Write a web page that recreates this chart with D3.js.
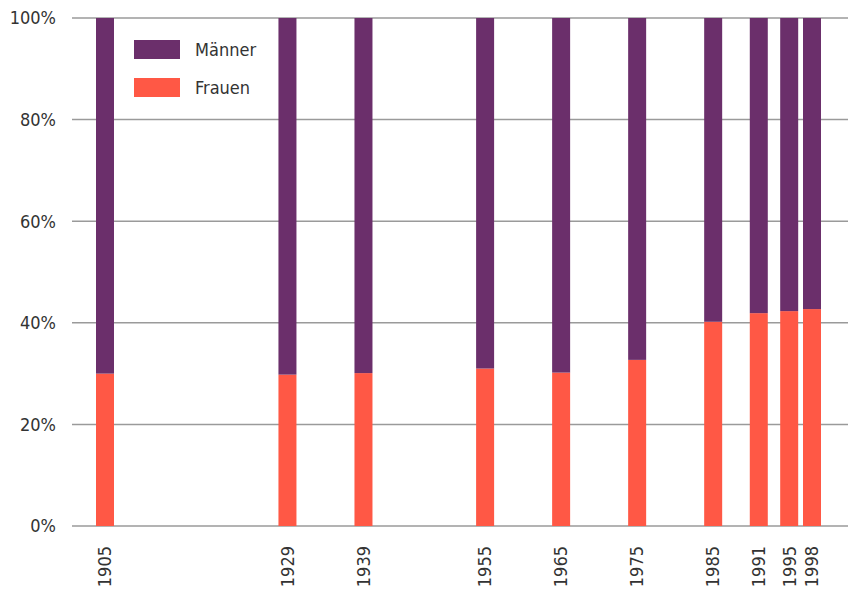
<!DOCTYPE html>
<html lang="de">
<head>
  <meta charset="UTF-8">
  <title>Männer und Frauen</title>
  <script src="https://cdn.jsdelivr.net/npm/d3@7"></script>
  <style>
    body { margin: 0; padding: 0; background: #fff; }
    svg text { font-family: "Liberation Sans Narrow", "DejaVu Sans Condensed", sans-serif; fill: #333; }
  </style>
</head>
<body>
<div id="chart"></div>
<script>
// data
var years = [1905, 1929, 1939, 1955, 1965, 1975, 1985, 1991, 1995, 1998];
var frauen = [30.0, 29.8, 30.1, 31.0, 30.2, 32.7, 40.2, 41.9, 42.3, 42.7];
var maenner = frauen.map(function(f) { return 100 - f; });
var yTicks = [0, 20, 40, 60, 80, 100];
var seriesNames = ["Männer", "Frauen"];
var colors = { "Männer": "#6b2f6b", "Frauen": "#ff5845" };

var W = 856, H = 591;
var plotLeft = 72, plotRight = 848, plotTop = 18, plotBottom = 526;

var svg = d3.select("#chart").append("svg")
  .attr("width", W).attr("height", H);

var x = d3.scaleLinear().domain([1905, 1998]).range([105, 812]);
var y = d3.scaleLinear().domain([0, 100]).range([plotBottom, plotTop]);

// gridlines
svg.append("g").selectAll("line")
  .data(yTicks).enter().append("line")
  .attr("x1", plotLeft).attr("x2", plotRight)
  .attr("y1", function(d) { return y(d); })
  .attr("y2", function(d) { return y(d); })
  .attr("stroke", "#9a9a9a").attr("stroke-width", 1.5);

// y labels
svg.append("g").selectAll("text")
  .data(yTicks).enter().append("text")
  .attr("x", 56)
  .attr("y", function(d) { return y(d); })
  .attr("dy", "0.35em")
  .attr("text-anchor", "end")
  .style("font-size", "18px")
  .text(function(d) { return d + "%"; });

var rows = years.map(function(yr, i) {
  return { year: yr, "Frauen": frauen[i], "Männer": maenner[i] };
});
var stacked = d3.stack().keys(["Frauen", "Männer"])(rows);
var bw = 18;

svg.append("g").selectAll("g")
  .data(stacked).enter().append("g")
  .attr("fill", function(s) { return colors[s.key]; })
  .selectAll("rect")
  .data(function(s) { return s; }).enter().append("rect")
  .attr("x", function(d) { return x(d.data.year) - bw / 2; })
  .attr("width", bw)
  .attr("y", function(d) { return y(d[1]); })
  .attr("height", function(d) { return y(d[0]) - y(d[1]); });

// x labels (rotated)
svg.append("g").selectAll("text")
  .data(years).enter().append("text")
  .attr("transform", function(d) { return "translate(" + x(d) + ",546) rotate(-90)"; })
  .attr("dy", "0.35em")
  .attr("text-anchor", "end")
  .style("font-size", "18px")
  .text(function(d) { return d; });

// legend
var leg = svg.append("g").selectAll("g")
  .data(seriesNames).enter().append("g")
  .attr("transform", function(d, i) { return "translate(134," + (40 + i * 38) + ")"; });
leg.append("rect").attr("width", 46).attr("height", 19)
  .attr("fill", function(d) { return colors[d]; });
leg.append("text").attr("x", 61).attr("y", 10).attr("dy", "0.35em")
  .style("font-size", "18px")
  .text(function(d) { return d; });
</script>
</body>
</html>
